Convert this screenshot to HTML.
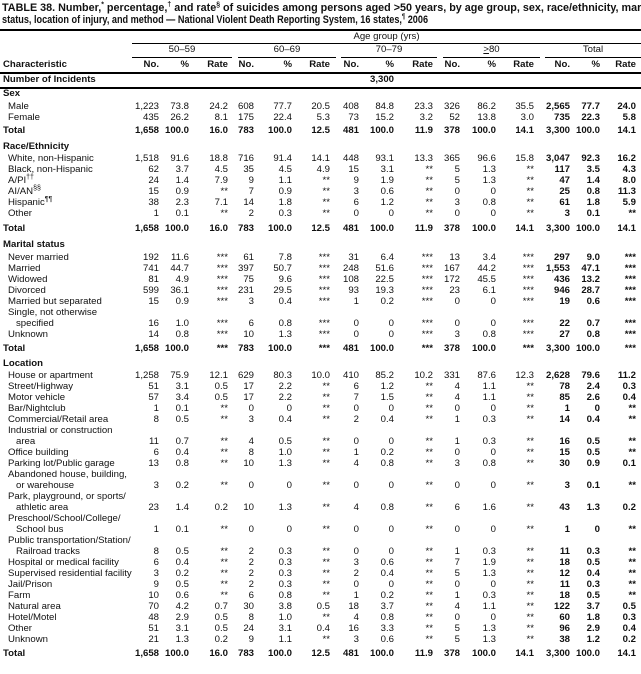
<!DOCTYPE html>
<html><head><meta charset="utf-8">
<style>
body{margin:0;background:#fff;}
#w{position:relative;width:641px;height:674px;overflow:hidden;font-family:"Liberation Sans",Arial,sans-serif;font-size:9.6px;color:#111;}
.t{position:absolute;left:2px;white-space:nowrap;font-weight:bold;font-size:11px;transform:scaleX(0.83);transform-origin:left top;line-height:12px;}
.hr{position:absolute;background:#000;}
.r{position:absolute;left:0;width:641px;height:12px;line-height:12px;white-space:nowrap;}
.r span{position:absolute;}
.l{left:8px}.h{left:3px;font-weight:bold}
.b{font-weight:bold}
.a{right:482px}.c{right:452px}.d{right:413px}
.e{right:387px}.f{right:349px}.g{right:311px}
.i{right:282px}.j{right:247px}.k{right:208px}
.m{right:181px}.n{right:145px}.o{right:107px}
.p{right:71px;font-weight:bold}.q{right:41px;font-weight:bold}.s{right:5px;font-weight:bold}
sup{font-size:7px;line-height:0}
</style></head><body><div id="w">
<div class="t" style="top:2px;transform:scaleX(0.98)">TABLE 38. Number,<sup>*</sup> percentage,<sup>†</sup> and rate<sup>§</sup> of suicides among persons aged &gt;50 years, by age group, sex, race/ethnicity, marital</div>
<div class="t" style="top:14px">status, location of injury, and method — National Violent Death Reporting System, 16 states,<sup>¶</sup> 2006</div>
<div class="hr" style="top:29px;left:0;width:641px;height:2px"></div>
<div class="r" style="top:31px"><span style="left:132px;width:509px;text-align:center">Age group (yrs)</span></div>
<div class="hr" style="top:43px;left:132px;width:509px;height:1px"></div>
<div class="r" style="top:44px">
<span style="left:132px;width:100px;text-align:center">50–59</span>
<span style="left:238px;width:98px;text-align:center">60–69</span>
<span style="left:341px;width:96px;text-align:center">70–79</span>
<span style="left:443px;width:97px;text-align:center"><u>&gt;</u>80</span>
<span style="left:545px;width:96px;text-align:center">Total</span></div>
<div class="hr" style="top:57px;left:132px;width:100px;height:1px"></div>
<div class="hr" style="top:57px;left:238px;width:98px;height:1px"></div>
<div class="hr" style="top:57px;left:341px;width:96px;height:1px"></div>
<div class="hr" style="top:57px;left:443px;width:97px;height:1px"></div>
<div class="hr" style="top:57px;left:545px;width:96px;height:1px"></div>
<div class="r b" style="top:59px"><span style="left:3px">Characteristic</span><span class="a">No.</span><span class="c">%</span><span class="d">Rate</span><span class="e">No.</span><span class="f">%</span><span class="g">Rate</span><span class="i">No.</span><span class="j">%</span><span class="k">Rate</span><span class="m">No.</span><span class="n">%</span><span class="o">Rate</span><span class="p">No.</span><span class="q">%</span><span class="s">Rate</span></div>
<div class="hr" style="top:72px;left:0;width:641px;height:2px"></div>
<div class="r b" style="top:74px"><span style="left:3px">Number of Incidents</span><span class="j">3,300</span></div>
<div class="hr" style="top:87px;left:0;width:641px;height:2px"></div>

<div class="r" style="top:88px"><span class="h">Sex</span></div>
<div class="r" style="top:101px"><span class="l">Male</span><span class="a">1,223</span><span class="c">73.8</span><span class="d">24.2</span><span class="e">608</span><span class="f">77.7</span><span class="g">20.5</span><span class="i">408</span><span class="j">84.8</span><span class="k">23.3</span><span class="m">326</span><span class="n">86.2</span><span class="o">35.5</span><span class="p">2,565</span><span class="q">77.7</span><span class="s">24.0</span></div>
<div class="r" style="top:112px"><span class="l">Female</span><span class="a">435</span><span class="c">26.2</span><span class="d">8.1</span><span class="e">175</span><span class="f">22.4</span><span class="g">5.3</span><span class="i">73</span><span class="j">15.2</span><span class="k">3.2</span><span class="m">52</span><span class="n">13.8</span><span class="o">3.0</span><span class="p">735</span><span class="q">22.3</span><span class="s">5.8</span></div>
<div class="r b" style="top:125px"><span class="h">Total</span><span class="a">1,658</span><span class="c">100.0</span><span class="d">16.0</span><span class="e">783</span><span class="f">100.0</span><span class="g">12.5</span><span class="i">481</span><span class="j">100.0</span><span class="k">11.9</span><span class="m">378</span><span class="n">100.0</span><span class="o">14.1</span><span class="p">3,300</span><span class="q">100.0</span><span class="s">14.1</span></div>

<div class="r" style="top:141px"><span class="h">Race/Ethnicity</span></div>
<div class="r" style="top:153px"><span class="l">White, non-Hispanic</span><span class="a">1,518</span><span class="c">91.6</span><span class="d">18.8</span><span class="e">716</span><span class="f">91.4</span><span class="g">14.1</span><span class="i">448</span><span class="j">93.1</span><span class="k">13.3</span><span class="m">365</span><span class="n">96.6</span><span class="o">15.8</span><span class="p">3,047</span><span class="q">92.3</span><span class="s">16.2</span></div>
<div class="r" style="top:164px"><span class="l">Black, non-Hispanic</span><span class="a">62</span><span class="c">3.7</span><span class="d">4.5</span><span class="e">35</span><span class="f">4.5</span><span class="g">4.9</span><span class="i">15</span><span class="j">3.1</span><span class="k">**</span><span class="m">5</span><span class="n">1.3</span><span class="o">**</span><span class="p">117</span><span class="q">3.5</span><span class="s">4.3</span></div>
<div class="r" style="top:175px"><span class="l">A/PI<sup>††</sup></span><span class="a">24</span><span class="c">1.4</span><span class="d">7.9</span><span class="e">9</span><span class="f">1.1</span><span class="g">**</span><span class="i">9</span><span class="j">1.9</span><span class="k">**</span><span class="m">5</span><span class="n">1.3</span><span class="o">**</span><span class="p">47</span><span class="q">1.4</span><span class="s">8.0</span></div>
<div class="r" style="top:186px"><span class="l">AI/AN<sup>§§</sup></span><span class="a">15</span><span class="c">0.9</span><span class="d">**</span><span class="e">7</span><span class="f">0.9</span><span class="g">**</span><span class="i">3</span><span class="j">0.6</span><span class="k">**</span><span class="m">0</span><span class="n">0</span><span class="o">**</span><span class="p">25</span><span class="q">0.8</span><span class="s">11.3</span></div>
<div class="r" style="top:197px"><span class="l">Hispanic<sup>¶¶</sup></span><span class="a">38</span><span class="c">2.3</span><span class="d">7.1</span><span class="e">14</span><span class="f">1.8</span><span class="g">**</span><span class="i">6</span><span class="j">1.2</span><span class="k">**</span><span class="m">3</span><span class="n">0.8</span><span class="o">**</span><span class="p">61</span><span class="q">1.8</span><span class="s">5.9</span></div>
<div class="r" style="top:208px"><span class="l">Other</span><span class="a">1</span><span class="c">0.1</span><span class="d">**</span><span class="e">2</span><span class="f">0.3</span><span class="g">**</span><span class="i">0</span><span class="j">0</span><span class="k">**</span><span class="m">0</span><span class="n">0</span><span class="o">**</span><span class="p">3</span><span class="q">0.1</span><span class="s">**</span></div>
<div class="r b" style="top:223px"><span class="h">Total</span><span class="a">1,658</span><span class="c">100.0</span><span class="d">16.0</span><span class="e">783</span><span class="f">100.0</span><span class="g">12.5</span><span class="i">481</span><span class="j">100.0</span><span class="k">11.9</span><span class="m">378</span><span class="n">100.0</span><span class="o">14.1</span><span class="p">3,300</span><span class="q">100.0</span><span class="s">14.1</span></div>

<div class="r" style="top:239px"><span class="h">Marital status</span></div>
<div class="r" style="top:252px"><span class="l">Never married</span><span class="a">192</span><span class="c">11.6</span><span class="d">***</span><span class="e">61</span><span class="f">7.8</span><span class="g">***</span><span class="i">31</span><span class="j">6.4</span><span class="k">***</span><span class="m">13</span><span class="n">3.4</span><span class="o">***</span><span class="p">297</span><span class="q">9.0</span><span class="s">***</span></div>
<div class="r" style="top:263px"><span class="l">Married</span><span class="a">741</span><span class="c">44.7</span><span class="d">***</span><span class="e">397</span><span class="f">50.7</span><span class="g">***</span><span class="i">248</span><span class="j">51.6</span><span class="k">***</span><span class="m">167</span><span class="n">44.2</span><span class="o">***</span><span class="p">1,553</span><span class="q">47.1</span><span class="s">***</span></div>
<div class="r" style="top:274px"><span class="l">Widowed</span><span class="a">81</span><span class="c">4.9</span><span class="d">***</span><span class="e">75</span><span class="f">9.6</span><span class="g">***</span><span class="i">108</span><span class="j">22.5</span><span class="k">***</span><span class="m">172</span><span class="n">45.5</span><span class="o">***</span><span class="p">436</span><span class="q">13.2</span><span class="s">***</span></div>
<div class="r" style="top:285px"><span class="l">Divorced</span><span class="a">599</span><span class="c">36.1</span><span class="d">***</span><span class="e">231</span><span class="f">29.5</span><span class="g">***</span><span class="i">93</span><span class="j">19.3</span><span class="k">***</span><span class="m">23</span><span class="n">6.1</span><span class="o">***</span><span class="p">946</span><span class="q">28.7</span><span class="s">***</span></div>
<div class="r" style="top:296px"><span class="l">Married but separated</span><span class="a">15</span><span class="c">0.9</span><span class="d">***</span><span class="e">3</span><span class="f">0.4</span><span class="g">***</span><span class="i">1</span><span class="j">0.2</span><span class="k">***</span><span class="m">0</span><span class="n">0</span><span class="o">***</span><span class="p">19</span><span class="q">0.6</span><span class="s">***</span></div>
<div class="r" style="top:307px"><span class="l">Single, not otherwise</span></div>
<div class="r" style="top:318px"><span class="l" style="left:16px">specified</span><span class="a">16</span><span class="c">1.0</span><span class="d">***</span><span class="e">6</span><span class="f">0.8</span><span class="g">***</span><span class="i">0</span><span class="j">0</span><span class="k">***</span><span class="m">0</span><span class="n">0</span><span class="o">***</span><span class="p">22</span><span class="q">0.7</span><span class="s">***</span></div>
<div class="r" style="top:329px"><span class="l">Unknown</span><span class="a">14</span><span class="c">0.8</span><span class="d">***</span><span class="e">10</span><span class="f">1.3</span><span class="g">***</span><span class="i">0</span><span class="j">0</span><span class="k">***</span><span class="m">3</span><span class="n">0.8</span><span class="o">***</span><span class="p">27</span><span class="q">0.8</span><span class="s">***</span></div>
<div class="r b" style="top:343px"><span class="h">Total</span><span class="a">1,658</span><span class="c">100.0</span><span class="d">***</span><span class="e">783</span><span class="f">100.0</span><span class="g">***</span><span class="i">481</span><span class="j">100.0</span><span class="k">***</span><span class="m">378</span><span class="n">100.0</span><span class="o">***</span><span class="p">3,300</span><span class="q">100.0</span><span class="s">***</span></div>

<div class="r" style="top:358px"><span class="h">Location</span></div>
<div class="r" style="top:370px"><span class="l">House or apartment</span><span class="a">1,258</span><span class="c">75.9</span><span class="d">12.1</span><span class="e">629</span><span class="f">80.3</span><span class="g">10.0</span><span class="i">410</span><span class="j">85.2</span><span class="k">10.2</span><span class="m">331</span><span class="n">87.6</span><span class="o">12.3</span><span class="p">2,628</span><span class="q">79.6</span><span class="s">11.2</span></div>
<div class="r" style="top:381px"><span class="l">Street/Highway</span><span class="a">51</span><span class="c">3.1</span><span class="d">0.5</span><span class="e">17</span><span class="f">2.2</span><span class="g">**</span><span class="i">6</span><span class="j">1.2</span><span class="k">**</span><span class="m">4</span><span class="n">1.1</span><span class="o">**</span><span class="p">78</span><span class="q">2.4</span><span class="s">0.3</span></div>
<div class="r" style="top:392px"><span class="l">Motor vehicle</span><span class="a">57</span><span class="c">3.4</span><span class="d">0.5</span><span class="e">17</span><span class="f">2.2</span><span class="g">**</span><span class="i">7</span><span class="j">1.5</span><span class="k">**</span><span class="m">4</span><span class="n">1.1</span><span class="o">**</span><span class="p">85</span><span class="q">2.6</span><span class="s">0.4</span></div>
<div class="r" style="top:403px"><span class="l">Bar/Nightclub</span><span class="a">1</span><span class="c">0.1</span><span class="d">**</span><span class="e">0</span><span class="f">0</span><span class="g">**</span><span class="i">0</span><span class="j">0</span><span class="k">**</span><span class="m">0</span><span class="n">0</span><span class="o">**</span><span class="p">1</span><span class="q">0</span><span class="s">**</span></div>
<div class="r" style="top:414px"><span class="l">Commercial/Retail area</span><span class="a">8</span><span class="c">0.5</span><span class="d">**</span><span class="e">3</span><span class="f">0.4</span><span class="g">**</span><span class="i">2</span><span class="j">0.4</span><span class="k">**</span><span class="m">1</span><span class="n">0.3</span><span class="o">**</span><span class="p">14</span><span class="q">0.4</span><span class="s">**</span></div>
<div class="r" style="top:425px"><span class="l">Industrial or construction</span></div>
<div class="r" style="top:436px"><span class="l" style="left:16px">area</span><span class="a">11</span><span class="c">0.7</span><span class="d">**</span><span class="e">4</span><span class="f">0.5</span><span class="g">**</span><span class="i">0</span><span class="j">0</span><span class="k">**</span><span class="m">1</span><span class="n">0.3</span><span class="o">**</span><span class="p">16</span><span class="q">0.5</span><span class="s">**</span></div>
<div class="r" style="top:447px"><span class="l">Office building</span><span class="a">6</span><span class="c">0.4</span><span class="d">**</span><span class="e">8</span><span class="f">1.0</span><span class="g">**</span><span class="i">1</span><span class="j">0.2</span><span class="k">**</span><span class="m">0</span><span class="n">0</span><span class="o">**</span><span class="p">15</span><span class="q">0.5</span><span class="s">**</span></div>
<div class="r" style="top:458px"><span class="l">Parking lot/Public garage</span><span class="a">13</span><span class="c">0.8</span><span class="d">**</span><span class="e">10</span><span class="f">1.3</span><span class="g">**</span><span class="i">4</span><span class="j">0.8</span><span class="k">**</span><span class="m">3</span><span class="n">0.8</span><span class="o">**</span><span class="p">30</span><span class="q">0.9</span><span class="s">0.1</span></div>
<div class="r" style="top:469px"><span class="l">Abandoned house, building,</span></div>
<div class="r" style="top:480px"><span class="l" style="left:16px">or warehouse</span><span class="a">3</span><span class="c">0.2</span><span class="d">**</span><span class="e">0</span><span class="f">0</span><span class="g">**</span><span class="i">0</span><span class="j">0</span><span class="k">**</span><span class="m">0</span><span class="n">0</span><span class="o">**</span><span class="p">3</span><span class="q">0.1</span><span class="s">**</span></div>
<div class="r" style="top:491px"><span class="l">Park, playground, or sports/</span></div>
<div class="r" style="top:502px"><span class="l" style="left:16px">athletic area</span><span class="a">23</span><span class="c">1.4</span><span class="d">0.2</span><span class="e">10</span><span class="f">1.3</span><span class="g">**</span><span class="i">4</span><span class="j">0.8</span><span class="k">**</span><span class="m">6</span><span class="n">1.6</span><span class="o">**</span><span class="p">43</span><span class="q">1.3</span><span class="s">0.2</span></div>
<div class="r" style="top:513px"><span class="l">Preschool/School/College/</span></div>
<div class="r" style="top:524px"><span class="l" style="left:16px">School bus</span><span class="a">1</span><span class="c">0.1</span><span class="d">**</span><span class="e">0</span><span class="f">0</span><span class="g">**</span><span class="i">0</span><span class="j">0</span><span class="k">**</span><span class="m">0</span><span class="n">0</span><span class="o">**</span><span class="p">1</span><span class="q">0</span><span class="s">**</span></div>
<div class="r" style="top:535px"><span class="l">Public transportation/Station/</span></div>
<div class="r" style="top:546px"><span class="l" style="left:16px">Railroad tracks</span><span class="a">8</span><span class="c">0.5</span><span class="d">**</span><span class="e">2</span><span class="f">0.3</span><span class="g">**</span><span class="i">0</span><span class="j">0</span><span class="k">**</span><span class="m">1</span><span class="n">0.3</span><span class="o">**</span><span class="p">11</span><span class="q">0.3</span><span class="s">**</span></div>
<div class="r" style="top:557px"><span class="l">Hospital or medical facility</span><span class="a">6</span><span class="c">0.4</span><span class="d">**</span><span class="e">2</span><span class="f">0.3</span><span class="g">**</span><span class="i">3</span><span class="j">0.6</span><span class="k">**</span><span class="m">7</span><span class="n">1.9</span><span class="o">**</span><span class="p">18</span><span class="q">0.5</span><span class="s">**</span></div>
<div class="r" style="top:568px"><span class="l">Supervised residential facility</span><span class="a">3</span><span class="c">0.2</span><span class="d">**</span><span class="e">2</span><span class="f">0.3</span><span class="g">**</span><span class="i">2</span><span class="j">0.4</span><span class="k">**</span><span class="m">5</span><span class="n">1.3</span><span class="o">**</span><span class="p">12</span><span class="q">0.4</span><span class="s">**</span></div>
<div class="r" style="top:579px"><span class="l">Jail/Prison</span><span class="a">9</span><span class="c">0.5</span><span class="d">**</span><span class="e">2</span><span class="f">0.3</span><span class="g">**</span><span class="i">0</span><span class="j">0</span><span class="k">**</span><span class="m">0</span><span class="n">0</span><span class="o">**</span><span class="p">11</span><span class="q">0.3</span><span class="s">**</span></div>
<div class="r" style="top:590px"><span class="l">Farm</span><span class="a">10</span><span class="c">0.6</span><span class="d">**</span><span class="e">6</span><span class="f">0.8</span><span class="g">**</span><span class="i">1</span><span class="j">0.2</span><span class="k">**</span><span class="m">1</span><span class="n">0.3</span><span class="o">**</span><span class="p">18</span><span class="q">0.5</span><span class="s">**</span></div>
<div class="r" style="top:601px"><span class="l">Natural area</span><span class="a">70</span><span class="c">4.2</span><span class="d">0.7</span><span class="e">30</span><span class="f">3.8</span><span class="g">0.5</span><span class="i">18</span><span class="j">3.7</span><span class="k">**</span><span class="m">4</span><span class="n">1.1</span><span class="o">**</span><span class="p">122</span><span class="q">3.7</span><span class="s">0.5</span></div>
<div class="r" style="top:612px"><span class="l">Hotel/Motel</span><span class="a">48</span><span class="c">2.9</span><span class="d">0.5</span><span class="e">8</span><span class="f">1.0</span><span class="g">**</span><span class="i">4</span><span class="j">0.8</span><span class="k">**</span><span class="m">0</span><span class="n">0</span><span class="o">**</span><span class="p">60</span><span class="q">1.8</span><span class="s">0.3</span></div>
<div class="r" style="top:623px"><span class="l">Other</span><span class="a">51</span><span class="c">3.1</span><span class="d">0.5</span><span class="e">24</span><span class="f">3.1</span><span class="g">0.4</span><span class="i">16</span><span class="j">3.3</span><span class="k">**</span><span class="m">5</span><span class="n">1.3</span><span class="o">**</span><span class="p">96</span><span class="q">2.9</span><span class="s">0.4</span></div>
<div class="r" style="top:634px"><span class="l">Unknown</span><span class="a">21</span><span class="c">1.3</span><span class="d">0.2</span><span class="e">9</span><span class="f">1.1</span><span class="g">**</span><span class="i">3</span><span class="j">0.6</span><span class="k">**</span><span class="m">5</span><span class="n">1.3</span><span class="o">**</span><span class="p">38</span><span class="q">1.2</span><span class="s">0.2</span></div>
<div class="r b" style="top:648px"><span class="h">Total</span><span class="a">1,658</span><span class="c">100.0</span><span class="d">16.0</span><span class="e">783</span><span class="f">100.0</span><span class="g">12.5</span><span class="i">481</span><span class="j">100.0</span><span class="k">11.9</span><span class="m">378</span><span class="n">100.0</span><span class="o">14.1</span><span class="p">3,300</span><span class="q">100.0</span><span class="s">14.1</span></div>
</div></body></html>
